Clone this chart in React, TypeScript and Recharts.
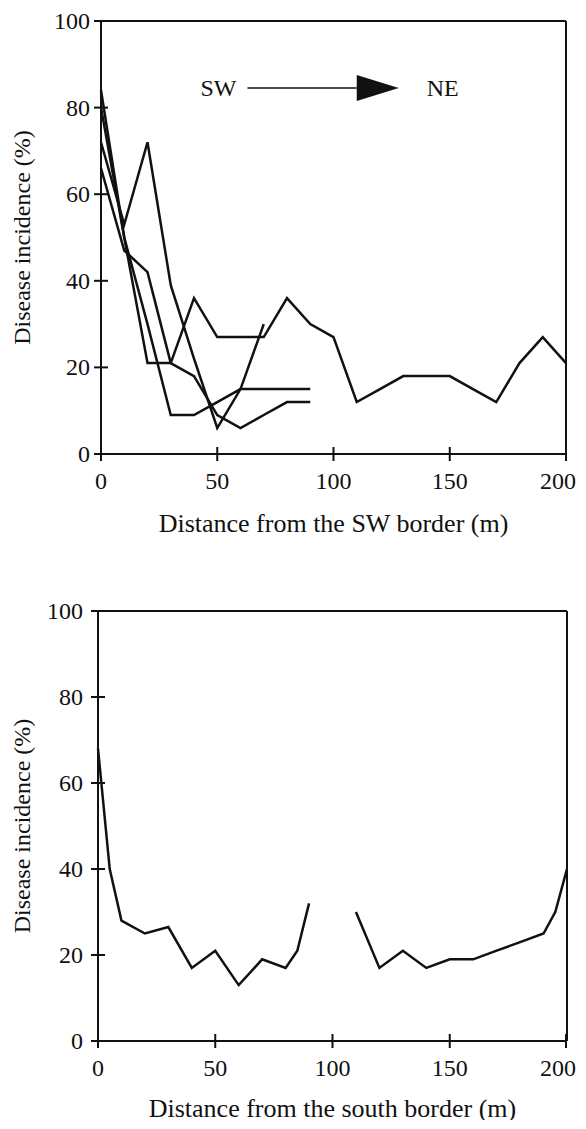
import React from 'react'
import { LineChart, Line, XAxis, YAxis, ReferenceLine, ReferenceDot } from 'recharts'

// Top panel: four transects measured every 10 m from the SW border
const topX = [0, 10, 20, 30, 40, 50, 60, 70, 80, 90, 100, 110, 120, 130, 140, 150, 160, 170, 180, 190, 200]
const transectA = [80, 50, 21, 21, 36, 27, 27, 27, 36, 30, 27, 12, 15, 18, 18, 18, 15, 12, 21, 27, 21]
const transectB = [72, 53, 72, 39, 22, 6, 15, 30]
const transectC = [66, 47, 42, 21, 18, 9, 6, 9, 12, 12]
const transectD = [84, 50, 30, 9, 9, 12, 15, 15, 15, 15]

// Bottom panel: one transect from the south border (no data at 100 m)
const bottomX = [0, 5, 10, 20, 30, 40, 50, 60, 70, 80, 85, 90, 100, 110, 120, 130, 140, 150, 160, 170, 180, 190, 195, 200]
const bottomY = [68, 40, 28, 25, 26.5, 17, 21, 13, 19, 17, 21, 32, null, 30, 17, 21, 17, 19, 19, 21, 23, 25, 30, 40]

const xTicks = [0, 50, 100, 150, 200]
const yTicks = [0, 20, 40, 60, 80, 100]

const FONT = '"Liberation Serif", "Times New Roman", serif'
const INK = '#111'
const TICK_FS = 24
const TITLE_FS = 26

const topData = topX.map((x, i) => ({
  x,
  a: transectA[i] ?? null,
  b: transectB[i] ?? null,
  c: transectC[i] ?? null,
  d: transectD[i] ?? null,
}))
const bottomData = bottomX.map((x, i) => ({ x, y: bottomY[i] }))

const XTick = (props: any) => {
  const { x, y, payload } = props
  // the last label sits at the page edge, keep it inside
  const last = payload.value === xTicks[xTicks.length - 1]
  return (
    <g>
      <line x1={x} x2={x} y1={y - 7} y2={y + 7} stroke={INK} strokeWidth={2} />
      <text
        x={last ? x + 10 : x}
        y={y + 27}
        textAnchor={last ? 'end' : 'middle'}
        dominantBaseline="central"
        fontSize={TICK_FS}
        fontFamily={FONT}
        fill={INK}
      >
        {payload.value}
      </text>
    </g>
  )
}

const YTick = (props: any) => {
  const { x, y, payload, gap = 11 } = props
  return (
    <g>
      <line x1={x - 7} x2={x + 7} y1={y} y2={y} stroke={INK} strokeWidth={2} />
      <text x={x - gap} y={y} textAnchor="end" dominantBaseline="central" fontSize={TICK_FS} fontFamily={FONT} fill={INK}>
        {payload.value}
      </text>
    </g>
  )
}

const xTitle = (text: string, dy: number) => (p: any) => {
  const vb = p.viewBox
  return (
    <text x={vb.x + vb.width / 2} y={vb.y + dy} textAnchor="middle" dominantBaseline="central" fontSize={TITLE_FS} fontFamily={FONT} fill={INK}>
      {text}
    </text>
  )
}

const yTitle = (p: any) => {
  const vb = p.viewBox
  const cx = vb.x + 14
  const cy = vb.y + vb.height / 2
  return (
    <text x={cx} y={cy} transform={`rotate(-90 ${cx} ${cy})`} textAnchor="middle" dominantBaseline="central" fontSize={24} fontFamily={FONT} fill={INK}>
      Disease incidence (%)
    </text>
  )
}

const lineProps = {
  type: 'linear' as const,
  stroke: INK,
  strokeWidth: 2.5,
  dot: false,
  isAnimationActive: false,
  connectNulls: false,
}

const label = (text: string) => (p: any) => (
  <text x={p.cx} y={p.cy} textAnchor="middle" dominantBaseline="central" fontSize={24} fontFamily={FONT} fill={INK}>
    {text}
  </text>
)

export default function App() {
  return (
    <div style={{ width: 570, height: 1112, fontFamily: FONT }}>
      <style>{`svg.recharts-surface { overflow: visible !important; } .recharts-wrapper { overflow: visible !important; }`}</style>
      <LineChart width={570} height={560} data={topData} margin={{ top: 13, right: 12, left: 0, bottom: 0 }}>
        <XAxis
          dataKey="x"
          type="number"
          domain={[0, 200]}
          ticks={xTicks}
          tick={<XTick />}
          tickSize={0}
          tickMargin={0}
          height={114}
          axisLine={{ stroke: INK, strokeWidth: 2 }}
          label={{ content: xTitle('Distance from the SW border (m)', 69) }}
        />
        <YAxis
          type="number"
          domain={[0, 100]}
          ticks={yTicks}
          tick={<YTick gap={11} />}
          tickSize={0}
          tickMargin={0}
          width={93}
          axisLine={{ stroke: INK, strokeWidth: 2 }}
          label={{ content: yTitle }}
        />
        <ReferenceLine y={100} stroke={INK} strokeWidth={2} />
        <ReferenceLine x={200} stroke={INK} strokeWidth={2} />
        <Line {...lineProps} dataKey="a" />
        <Line {...lineProps} dataKey="b" />
        <Line {...lineProps} dataKey="c" />
        <Line {...lineProps} dataKey="d" />
        <ReferenceLine segment={[{ x: 63, y: 84.5 }, { x: 110, y: 84.5 }]} stroke={INK} strokeWidth={1.5} />
        <ReferenceDot
          x={110}
          y={84.5}
          r={0}
          shape={(p: any) => (
            <polygon points={`${p.cx},${p.cy - 13} ${p.cx + 42},${p.cy} ${p.cx},${p.cy + 13}`} fill={INK} />
          )}
        />
        <ReferenceDot x={50.5} y={84.5} r={0} shape={label('SW')} />
        <ReferenceDot x={147} y={84.5} r={0} shape={label('NE')} />
      </LineChart>
      <LineChart width={570} height={552} data={bottomData} margin={{ top: 43, right: 11, left: 0, bottom: 0 }}>
        <XAxis
          dataKey="x"
          type="number"
          domain={[0, 200]}
          ticks={xTicks}
          tick={<XTick />}
          tickSize={0}
          tickMargin={0}
          height={79}
          axisLine={{ stroke: INK, strokeWidth: 2 }}
          label={{ content: xTitle('Distance from the south border (m)', 67) }}
        />
        <YAxis
          type="number"
          domain={[0, 100]}
          ticks={yTicks}
          tick={<YTick gap={15} />}
          tickSize={0}
          tickMargin={0}
          width={90}
          axisLine={{ stroke: INK, strokeWidth: 2 }}
          label={{ content: yTitle }}
        />
        <ReferenceLine y={100} stroke={INK} strokeWidth={2} />
        <ReferenceLine x={200} stroke={INK} strokeWidth={2} />
        <Line {...lineProps} dataKey="y" />
      </LineChart>
    </div>
  )
}
